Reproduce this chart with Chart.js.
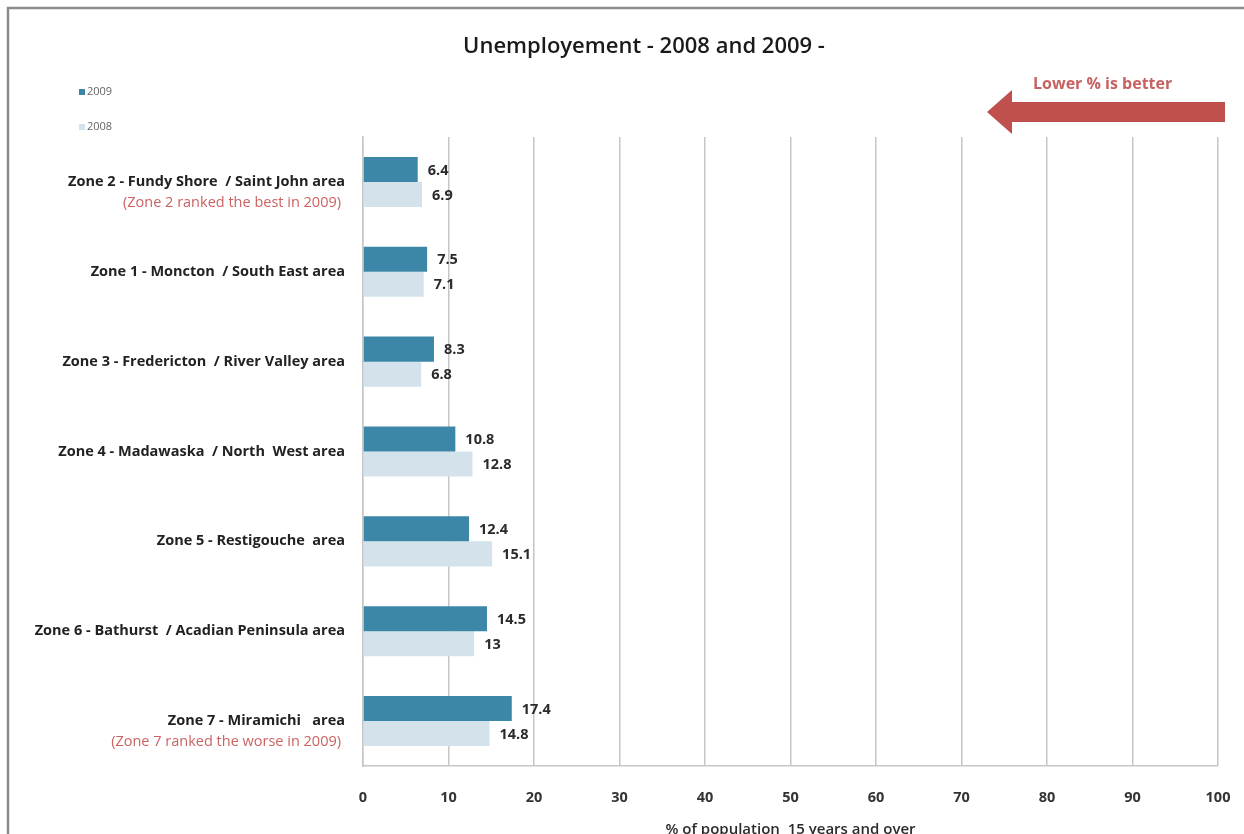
<!DOCTYPE html>
<html>
<head>
<meta charset="utf-8">
<script src="https://cdn.jsdelivr.net/npm/chart.js@4/dist/chart.umd.min.js"></script>
<style>
  html, body { margin: 0; padding: 0; background: #ffffff; overflow: hidden; }
  #wrap { width: 1244px; height: 834px; position: relative; }
</style>
</head>
<body>
<div id="wrap"><canvas id="c" width="1244" height="834"></canvas></div>
<script>
// Unemployment by health zone, % of population 15 years and over
const chartTitle = "Unemployement - 2008 and 2009 -";
const zones = [
  "Zone 2 - Fundy Shore  / Saint John area",
  "Zone 1 - Moncton  / South East area",
  "Zone 3 - Fredericton  / River Valley area",
  "Zone 4 - Madawaska  / North  West area",
  "Zone 5 - Restigouche  area",
  "Zone 6 - Bathurst  / Acadian Peninsula area",
  "Zone 7 - Miramichi   area"
];
const zoneNotes = [
  "(Zone 2 ranked the best in 2009)", "", "", "", "", "",
  "(Zone 7 ranked the worse in 2009)"
];
const rate2009 = [6.4, 7.5, 8.3, 10.8, 12.4, 14.5, 17.4];
const rate2008 = [6.9, 7.1, 6.8, 12.8, 15.1, 13, 14.8];
const seriesNames = ["2009", "2008"];
const xMin = 0, xMax = 100, xStep = 10;

const FONT = "'Open Sans', Lato, 'DejaVu Sans', sans-serif";
const C2009 = "#3c86a8";
const C2008 = "#d4e3eb";
const RED = "#c0504d";
const GRID = "#c6c6c6";

// Outer frame, title, legend, arrow note, zone notes and bar value labels
const decorations = {
  id: "decorations",
  beforeDraw(chart) {
    const ctx = chart.ctx;
    ctx.save();
    ctx.fillStyle = "#ffffff";
    ctx.fillRect(0, 0, chart.width, chart.height);
    ctx.restore();
  },
  afterDatasetsDraw(chart) {
    const ctx = chart.ctx;
    ctx.save();
    ctx.font = "bold 14.5px " + FONT;
    ctx.fillStyle = "#2b2b2b";
    ctx.textAlign = "left";
    ctx.textBaseline = "middle";
    chart.data.datasets.forEach((ds, di) => {
      const meta = chart.getDatasetMeta(di);
      meta.data.forEach((bar, i) => {
        ctx.fillText(String(ds.data[i]), bar.x + 10, bar.y + 1);
      });
    });
    ctx.restore();
  },
  afterDraw(chart) {
    const ctx = chart.ctx;
    const yScale = chart.scales.y;
    ctx.save();

    // frame
    ctx.strokeStyle = "#8c8c8c";
    ctx.lineWidth = 2.5;
    ctx.beginPath();
    ctx.moveTo(8, chart.height);
    ctx.lineTo(8, 8);
    ctx.lineTo(chart.width, 8);
    ctx.stroke();

    // title
    ctx.font = "600 22px " + FONT;
    ctx.fillStyle = "#1a1a1a";
    ctx.textAlign = "center";
    ctx.textBaseline = "middle";
    ctx.fillText(chartTitle, 644, 47);

    // legend
    ctx.font = "11px " + FONT;
    ctx.textBaseline = "middle";
    ctx.textAlign = "left";
    chart.data.datasets.forEach((ds, i) => {
      const y = 92 + i * 35;
      ctx.fillStyle = ds.backgroundColor;
      ctx.fillRect(79, y - 3, 6, 6);
      ctx.fillStyle = "#666666";
      ctx.fillText(ds.label, 87, y);
    });

    // zone notes under their labels
    ctx.font = "14.5px " + FONT;
    ctx.fillStyle = "#cc6262";
    ctx.textAlign = "right";
    zoneNotes.forEach((note, i) => {
      if (!note) return;
      const y = yScale.getPixelForValue(i);
      ctx.fillText(note, 341, y + 21);
    });

    // "Lower % is better" arrow
    ctx.fillStyle = RED;
    ctx.beginPath();
    ctx.moveTo(1225, 102);
    ctx.lineTo(1012, 102);
    ctx.lineTo(1012, 90);
    ctx.lineTo(987, 112);
    ctx.lineTo(1012, 134);
    ctx.lineTo(1012, 122);
    ctx.lineTo(1225, 122);
    ctx.closePath();
    ctx.fill();
    ctx.font = "bold 16px " + FONT;
    ctx.fillStyle = "#c66262";
    ctx.textAlign = "left";
    ctx.fillText("Lower % is better", 1033, 84);

    ctx.restore();
  }
};

new Chart(document.getElementById("c"), {
  type: "bar",
  data: {
    labels: zones,
    datasets: [
      { label: seriesNames[0], data: rate2009, backgroundColor: C2009, borderWidth: 0 },
      { label: seriesNames[1], data: rate2008, backgroundColor: C2008, borderWidth: 0 }
    ]
  },
  options: {
    indexAxis: "y",
    responsive: false,
    animation: false,
    devicePixelRatio: 1,
    layout: { padding: { left: 10, right: 26, top: 137, bottom: 0 } },
    datasets: { bar: { barPercentage: 1, categoryPercentage: 0.557 } },
    plugins: {
      legend: { display: false },
      tooltip: { enabled: false },
      title: { display: false }
    },
    scales: {
      x: {
        min: xMin, max: xMax,
        ticks: {
          stepSize: xStep,
          font: { family: FONT, size: 14.5, weight: "bold" },
          color: "#333333",
          padding: 23
        },
        grid: { color: GRID, lineWidth: 1.5, drawTicks: false },
        border: { color: GRID, width: 1.5 },
        title: {
          display: true,
          text: "% of population  15 years and over",
          font: { family: FONT, size: 15, weight: "600" },
          color: "#2b2b2b",
          padding: { top: 0, bottom: -5 }
        },
        afterFit(scale) {
          scale.height = 68;
          scale.paddingLeft = 0;
          scale.paddingRight = 0;
        }
      },
      y: {
        grid: { display: false, drawTicks: false },
        border: { color: GRID, width: 1.5 },
        ticks: {
          font: { family: FONT, size: 14.5, weight: "bold" },
          color: "#222222",
          padding: 18
        },
        afterFit(scale) {
          scale.width = 353;
          scale.paddingTop = 0;
          scale.paddingBottom = 0;
        }
      }
    }
  },
  plugins: [decorations]
});
</script>
</body>
</html>
